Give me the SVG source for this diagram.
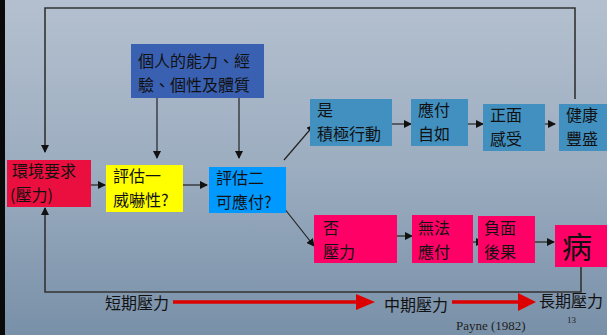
<svg xmlns="http://www.w3.org/2000/svg" width="607" height="335" viewBox="0 0 607 335">
<defs>
<linearGradient id="bg" x1="0" y1="0" x2="0" y2="1">
<stop offset="0" stop-color="#b4c0cf"/>
<stop offset="0.5" stop-color="#9cadc0"/>
<stop offset="1" stop-color="#7890a8"/>
</linearGradient>
<marker id="ah" markerWidth="8" markerHeight="8" refX="7" refY="4" orient="auto" markerUnits="userSpaceOnUse">
<path d="M0,0 L8,4 L0,8 Z" fill="#111"/>
</marker>
</defs>
<style>
.t{font-family:"Noto Sans CJK TC","Noto Sans CJK SC",sans-serif;font-size:16px;fill:#111}
.big{font-size:30px}
.c{stroke:#222;stroke-width:1.2;fill:none}
.fb{stroke:#333;stroke-width:1.6;fill:none}
</style>
<rect width="607" height="335" fill="url(#bg)"/>
<rect x="0" y="0" width="5" height="335" fill="#0a0a0a"/>
<g id="connectors">
<polyline class="fb" points="575,99 575,8 45,8 45,152" marker-end="url(#ah)"/>
<polyline class="fb" points="581,267 581,292 45,292 45,208" marker-end="url(#ah)"/>
<line class="c" x1="157" y1="98" x2="157" y2="158" marker-end="url(#ah)"/>
<line class="c" x1="239" y1="98" x2="239" y2="158" marker-end="url(#ah)"/>
<line class="c" x1="86" y1="185" x2="105" y2="185" marker-end="url(#ah)"/>
<line class="c" x1="183" y1="185" x2="207" y2="185" marker-end="url(#ah)"/>
<line class="c" x1="284" y1="160" x2="314" y2="125" marker-end="url(#ah)"/>
<line class="c" x1="284" y1="208" x2="314" y2="246" marker-end="url(#ah)"/>
<line class="c" x1="392" y1="124" x2="411" y2="124" marker-end="url(#ah)"/>
<line class="c" x1="468" y1="124" x2="483" y2="124" marker-end="url(#ah)"/>
<line class="c" x1="539" y1="124" x2="555" y2="124" marker-end="url(#ah)"/>
<line class="c" x1="397" y1="236" x2="412" y2="236" marker-end="url(#ah)"/>
<line class="c" x1="468" y1="242" x2="483" y2="242" marker-end="url(#ah)"/>
<line class="c" x1="529" y1="242" x2="554" y2="242" marker-end="url(#ah)"/>
<line x1="173" y1="302" x2="358" y2="302" stroke="#dd0000" stroke-width="3.5"/>
<polygon points="356,294 375,302 356,310" fill="#dd0000"/>
<line x1="452" y1="302" x2="520" y2="302" stroke="#dd0000" stroke-width="3.5"/>
<polygon points="518,293 536,302 518,311" fill="#dd0000"/>
</g>
<g id="personal">
<rect x="131" y="44" width="133" height="54" fill="#3a60b2"/>
<text class="t" x="138" y="67">個人的能力、經<tspan x="138" dy="24">驗、個性及體質</tspan></text>
</g>
<g id="env">
<rect x="7" y="160" width="84" height="47" fill="#ea0f3e"/>
<text class="t" x="12" y="177">環境要求<tspan x="10" dy="23.5">(壓力)</tspan></text>
</g>
<g id="eval1">
<rect x="106" y="165" width="77" height="47" fill="#ffff00"/>
<text class="t" x="113" y="182">評估一<tspan x="113" dy="23.5">威嚇性?</tspan></text>
</g>
<g id="eval2">
<rect x="209" y="167" width="77" height="46" fill="#0099ff"/>
<text class="t" x="216" y="184">評估二<tspan x="216" dy="23.5">可應付?</tspan></text>
</g>
<g id="yes">
<rect x="310" y="99" width="82" height="47" fill="#4190c0"/>
<text class="t" x="317" y="116">是<tspan x="317" dy="23.5">積極行動</tspan></text>
</g>
<g id="cope">
<rect x="411" y="99" width="57" height="47" fill="#4190c0"/>
<text class="t" x="418" y="116">應付<tspan x="418" dy="23.5">自如</tspan></text>
</g>
<g id="positive">
<rect x="483" y="104" width="62" height="47" fill="#4190c0"/>
<text class="t" x="490" y="121">正面<tspan x="490" dy="23.5">感受</tspan></text>
</g>
<g id="health">
<rect x="559" y="104" width="48" height="47" fill="#4190c0"/>
<text class="t" x="566" y="121">健康<tspan x="566" dy="23.5">豐盛</tspan></text>
</g>
<g id="no">
<rect x="314" y="215" width="83" height="48" fill="#ff0066"/>
<text class="t" x="323" y="234">否<tspan x="323" dy="23.5">壓力</tspan></text>
</g>
<g id="cannot">
<rect x="412" y="215" width="61" height="48" fill="#ff0066"/>
<text class="t" x="418" y="234">無法<tspan x="418" dy="23.5">應付</tspan></text>
</g>
<g id="negative">
<rect x="478" y="216" width="57" height="47" fill="#ff0066"/>
<text class="t" x="484" y="234">負面<tspan x="484" dy="23.5">後果</tspan></text>
</g>
<g id="ill">
<rect x="555" y="225" width="52" height="42" fill="#ff0066"/>
<text class="t big" x="562" y="258">病</text>
</g>
<g id="labels">
<text class="t" x="105" y="309">短期壓力</text>
<text class="t" x="384" y="311">中期壓力</text>
<text class="t" x="539" y="307">長期壓力</text>
<text x="456" y="330" font-family="Liberation Serif,serif" font-size="13" fill="#222">Payne (1982)</text>
<text x="567" y="323" font-family="Liberation Serif,serif" font-size="9" fill="#222">13</text>
</g>
</svg>
